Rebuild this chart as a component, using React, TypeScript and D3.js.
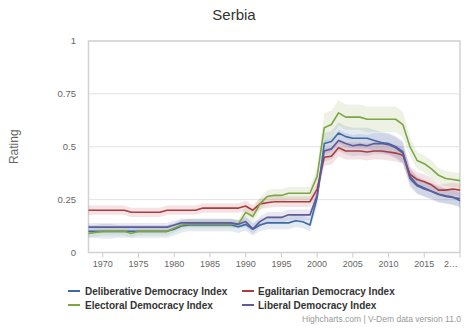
import React from "react";
import * as d3 from "d3";

const years: number[] = d3.range(1968, 2021);

const deliberative: number[] = [
  0.1, 0.1, 0.1, 0.1, 0.1, 0.1, 0.1, 0.1, 0.1, 0.1, 0.1, 0.1,
  0.11, 0.125, 0.13, 0.13, 0.13, 0.13, 0.13, 0.13, 0.13, 0.122,
  0.133, 0.11, 0.13, 0.14, 0.14, 0.14, 0.14, 0.15, 0.145, 0.13,
  0.26, 0.515, 0.525, 0.565, 0.548, 0.54, 0.54, 0.54, 0.53, 0.52, 0.515, 0.5, 0.477,
  0.36, 0.32, 0.305, 0.29, 0.275, 0.268, 0.262, 0.245,
];
const egalitarian: number[] = [
  0.2, 0.2, 0.2, 0.2, 0.2, 0.2, 0.19, 0.19, 0.19, 0.19, 0.19, 0.2,
  0.2, 0.2, 0.2, 0.2, 0.21, 0.21, 0.21, 0.21, 0.21, 0.21,
  0.22, 0.2, 0.23, 0.235, 0.24, 0.24, 0.24, 0.24, 0.24, 0.24,
  0.3, 0.45, 0.455, 0.495, 0.48, 0.48, 0.48, 0.475, 0.48, 0.48, 0.475, 0.47, 0.46,
  0.37, 0.345, 0.335, 0.32, 0.295, 0.295, 0.3, 0.295,
];
const electoral: number[] = [
  0.09, 0.095, 0.1, 0.1, 0.1, 0.1, 0.09, 0.1, 0.1, 0.1, 0.1, 0.1,
  0.115, 0.13, 0.135, 0.135, 0.135, 0.135, 0.135, 0.135, 0.135, 0.135,
  0.19, 0.17, 0.23, 0.265, 0.27, 0.27, 0.28, 0.28, 0.28, 0.28,
  0.36, 0.59, 0.605, 0.66, 0.64, 0.64, 0.64, 0.63, 0.63, 0.63, 0.63, 0.63, 0.605,
  0.5, 0.435, 0.42, 0.395, 0.365, 0.35, 0.345, 0.34,
];
const liberal: number[] = [
  0.12, 0.12, 0.12, 0.12, 0.12, 0.12, 0.12, 0.12, 0.12, 0.12, 0.12, 0.12,
  0.13, 0.14, 0.14, 0.14, 0.14, 0.14, 0.14, 0.14, 0.14, 0.133,
  0.146, 0.112, 0.146, 0.166, 0.166, 0.166, 0.178, 0.178, 0.178, 0.178,
  0.27, 0.48, 0.49, 0.53, 0.515, 0.505, 0.51, 0.505, 0.515, 0.515, 0.51, 0.495, 0.47,
  0.35, 0.315, 0.3, 0.29, 0.275, 0.265, 0.26, 0.255,
];

// confidence band half-widths read from the shaded areas
const deliberativeCI: number[] = [
  0.03, 0.03, 0.035, 0.035, 0.03, 0.03, 0.03, 0.03, 0.03, 0.03, 0.03, 0.03,
  0.03, 0.03, 0.03, 0.03, 0.03, 0.03, 0.03, 0.03, 0.03, 0.03,
  0.03, 0.03, 0.03, 0.03, 0.03, 0.03, 0.03, 0.03, 0.03, 0.03,
  0.04, 0.05, 0.05, 0.05, 0.05, 0.05, 0.05, 0.05, 0.05, 0.05, 0.05, 0.05, 0.05,
  0.04, 0.04, 0.04, 0.04, 0.04, 0.035, 0.035, 0.035,
];
const egalitarianCI: number[] = [
  0.022, 0.022, 0.022, 0.022, 0.022, 0.022, 0.022, 0.022, 0.022, 0.022, 0.022, 0.022,
  0.022, 0.022, 0.022, 0.022, 0.022, 0.022, 0.022, 0.022, 0.022, 0.022,
  0.025, 0.025, 0.025, 0.025, 0.025, 0.025, 0.025, 0.025, 0.025, 0.025,
  0.03, 0.04, 0.04, 0.04, 0.04, 0.04, 0.04, 0.04, 0.04, 0.04, 0.04, 0.04, 0.04,
  0.035, 0.035, 0.035, 0.035, 0.03, 0.03, 0.03, 0.03,
];
const electoralCI: number[] = [
  0.02, 0.02, 0.02, 0.02, 0.02, 0.02, 0.02, 0.02, 0.02, 0.02, 0.02, 0.02,
  0.02, 0.02, 0.02, 0.02, 0.02, 0.02, 0.02, 0.02, 0.02, 0.02,
  0.03, 0.03, 0.03, 0.03, 0.03, 0.03, 0.03, 0.03, 0.03, 0.03,
  0.04, 0.07, 0.065, 0.06, 0.06, 0.06, 0.06, 0.06, 0.06, 0.06, 0.06, 0.06, 0.06,
  0.045, 0.04, 0.04, 0.04, 0.035, 0.035, 0.035, 0.035,
];
const liberalCI: number[] = [
  0.02, 0.02, 0.02, 0.02, 0.02, 0.02, 0.02, 0.02, 0.02, 0.02, 0.02, 0.02,
  0.02, 0.02, 0.02, 0.02, 0.02, 0.02, 0.02, 0.02, 0.02, 0.02,
  0.025, 0.025, 0.025, 0.025, 0.025, 0.025, 0.025, 0.025, 0.025, 0.025,
  0.035, 0.05, 0.05, 0.05, 0.05, 0.05, 0.05, 0.05, 0.05, 0.05, 0.05, 0.05, 0.05,
  0.04, 0.04, 0.035, 0.035, 0.035, 0.035, 0.035, 0.035,
];

const seriesNames: string[] = [
  "Deliberative Democracy Index",
  "Egalitarian Democracy Index",
  "Electoral Democracy Index",
  "Liberal Democracy Index",
];
const seriesColors: string[] = ["#3b6ba5", "#b03a3e", "#7ea444", "#5e5a9c"];
const seriesValues: number[][] = [deliberative, egalitarian, electoral, liberal];
const seriesCI: number[][] = [deliberativeCI, egalitarianCI, electoralCI, liberalCI];

const xTickYears: number[] = [1970, 1975, 1980, 1985, 1990, 1995, 2000, 2005, 2010, 2015, 2020];
const xTickLabels: string[] = ["1970", "1975", "1980", "1985", "1990", "1995", "2000", "2005", "2010", "2015", "2…"];
const yTicks: number[] = [0, 0.25, 0.5, 0.75, 1];
const yTickLabels: string[] = ["0", "0.25", "0.5", "0.75", "1"];

const FONT = "'Liberation Sans', Arial, Helvetica, sans-serif";

export default function App() {
  const W = 468, H = 328;
  const left = 88.5, right = 460, top = 41, bottom = 252.5;
  const x = d3.scaleLinear().domain([1968, 2020]).range([left, right]);
  const y = d3.scaleLinear().domain([0, 1]).range([bottom, top]);

  const line = d3.line<number>().x((_, i) => x(years[i])).y((d) => y(d));
  const area = (vals: number[], ci: number[]) =>
    d3.area<number>()
      .x((_, i) => x(years[i]))
      .y0((d, i) => y(d - ci[i]))
      .y1((d, i) => y(d + ci[i]))(vals) || "";

  const legendPos = [
    { sx: 68, tx: 85, y: 291 },
    { sx: 242, tx: 258, y: 291 },
    { sx: 68, tx: 85, y: 305 },
    { sx: 242, tx: 258, y: 305 },
  ];

  return (
    <div style={{ position: "fixed", left: 0, top: 0 }}>
      <svg width={W} height={H} style={{ display: "block", background: "#fff" }} fontFamily={FONT}>
        <rect x={0} y={0} width={W} height={H} fill="#fff" />
        <text x={234} y={20} textAnchor="middle" fontSize={15} fill="#333">Serbia</text>

        {/* gridlines */}
        {yTicks.map((t) => (
          <line key={t} x1={left} x2={right} y1={y(t)} y2={y(t)} stroke="#e3e3e3" strokeWidth={1} />
        ))}
        {/* frame */}
        <rect x={left} y={top} width={right - left} height={bottom - top} fill="none" stroke="#d2d2d2" strokeWidth={1.5} />

        {/* y labels */}
        {yTicks.map((t, i) => (
          <text key={t} x={76} y={y(t)} dy="0.35em" textAnchor="end" fontSize={9.5} fill="#666">{yTickLabels[i]}</text>
        ))}
        <text transform={`translate(18,${(top + bottom) / 2}) rotate(-90)`} textAnchor="middle" fontSize={12} fill="#666">Rating</text>

        {/* x ticks */}
        {xTickYears.map((t, i) => (
          <g key={t}>
            <line x1={x(t)} x2={x(t)} y1={bottom} y2={bottom + 5} stroke="#ccc" strokeWidth={1} />
            <text
              x={i === xTickYears.length - 1 ? x(t) - 2 : x(t)}
              y={267}
              textAnchor={i === xTickYears.length - 1 ? "end" : "middle"}
              fontSize={9}
              fill="#666"
            >{xTickLabels[i]}</text>
          </g>
        ))}

        {/* bands */}
        {seriesValues.map((vals, s) => (
          <path key={"b" + s} d={area(vals, seriesCI[s])} fill={seriesColors[s]} fillOpacity={0.14} stroke="none" />
        ))}
        {/* lines */}
        {seriesValues.map((vals, s) => (
          <path key={"l" + s} d={line(vals) || ""} fill="none" stroke={seriesColors[s]} strokeWidth={1.6} strokeLinejoin="round" />
        ))}

        {/* legend */}
        {seriesNames.map((n, s) => (
          <g key={n}>
            <line x1={legendPos[s].sx} x2={legendPos[s].sx + 12} y1={legendPos[s].y} y2={legendPos[s].y} stroke={seriesColors[s]} strokeWidth={2} />
            <text x={legendPos[s].tx} y={legendPos[s].y} dy="0.35em" fontSize={10} fontWeight="bold" fill="#333">{n}</text>
          </g>
        ))}

        <text x={461} y={322} textAnchor="end" fontSize={8.5} fill="#999">Highcharts.com | V-Dem data version 11.0</text>
      </svg>
    </div>
  );
}
